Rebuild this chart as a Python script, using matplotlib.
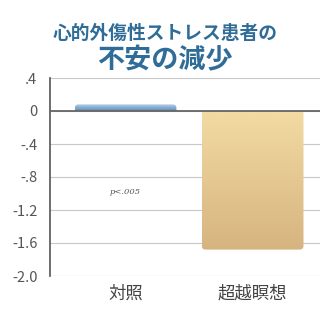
import numpy as np
import matplotlib
matplotlib.use('Agg')
import matplotlib.pyplot as plt
from matplotlib.patches import FancyBboxPatch
from matplotlib.colors import LinearSegmentedColormap

plt.rcParams['font.family'] = ['Noto Sans CJK JP', 'DejaVu Sans']

# data
groups = ['対照', '超越瞑想']
values = [0.08, -1.68]
ytick_vals = [0.4, 0.0, -0.4, -0.8, -1.2, -1.6, -2.0]
ytick_labels = ['.4', '0', '-.4', '-.8', '-1.2', '-1.6', '-2.0']
title_line1 = '心的外傷性ストレス患者の'
title_line2 = '不安の減少'
p_note = 'p<.005'

# colours (top, bottom) of each bar gradient
bar_colors = [('#b4d0e6', '#5a8cb8'), ('#f2daa2', '#d6b480')]
title_color = '#2f6d98'

fig = plt.figure(figsize=(3.2, 3.2), dpi=100)
ax = fig.add_axes([50/320, 1-276/320, 270/320, 198/320])

x = np.arange(len(groups))
bars = ax.bar(x, values, width=0.8, color='none', edgecolor='none', zorder=3)

# gradient bars, rounded only at the far end from zero
for b, (c_top, c_bot) in zip(bars, bar_colors):
    x0, y0 = b.get_x(), b.get_y()
    w, h = b.get_width(), b.get_height()
    r = 0.03
    if h >= 0:
        img_lo, img_hi = 0.0, h
        p_lo, p_hi = -0.2, h
    else:
        img_lo, img_hi = h, -0.012
        p_lo, p_hi = h, 0.2
    patch = FancyBboxPatch((x0 + r, p_lo + r * 1.5), w - 2 * r,
                           p_hi - p_lo - 3 * r,
                           boxstyle='round,pad=%g' % r,
                           mutation_aspect=1.5, facecolor='none',
                           edgecolor='none', zorder=3)
    ax.add_patch(patch)
    cmap = LinearSegmentedColormap.from_list('g', [c_bot, c_top])
    grad = np.linspace(0, 1, 100).reshape(-1, 1)
    im = ax.imshow(grad, cmap=cmap, origin='lower', aspect='auto',
                   extent=(x0, x0 + w, img_lo, img_hi), zorder=3)
    im.set_clip_path(patch)

ax.set_xlim(-0.595, 1.53)
ax.set_ylim(-2.0, 0.4)

# grid and axes
ax.set_yticks(ytick_vals)
ax.set_yticklabels(ytick_labels)
ax.set_xticks(x)
ax.set_xticklabels(groups, fontsize=12.5, color='#444444')
ax.tick_params(axis='x', length=0, pad=6)
ax.tick_params(axis='y', length=0, labelsize=10.5, labelcolor='#555555',
               pad=9)
for yv in ytick_vals:
    ax.axhline(yv, color='#c8c8c8', lw=0.8, zorder=1)
ax.axhline(0, color='#666666', lw=1.3, zorder=4)

for s in ['top', 'right', 'bottom']:
    ax.spines[s].set_visible(False)
ax.spines['left'].set_color('#555555')
ax.spines['left'].set_linewidth(1.2)

# p value note
ax.text(0, -0.98, p_note, ha='center', va='center', fontsize=6,
        style='italic', family='DejaVu Serif', color='#555555')

# title
fig.text(165/320, 1-33/320, title_line1, ha='center', va='center',
         fontsize=13.5, fontweight='bold', color=title_color)
fig.text(165/320, 1-60/320, title_line2, ha='center', va='center',
         fontsize=19.5, fontweight='bold', color=title_color)

plt.savefig('out.png', dpi=100)
